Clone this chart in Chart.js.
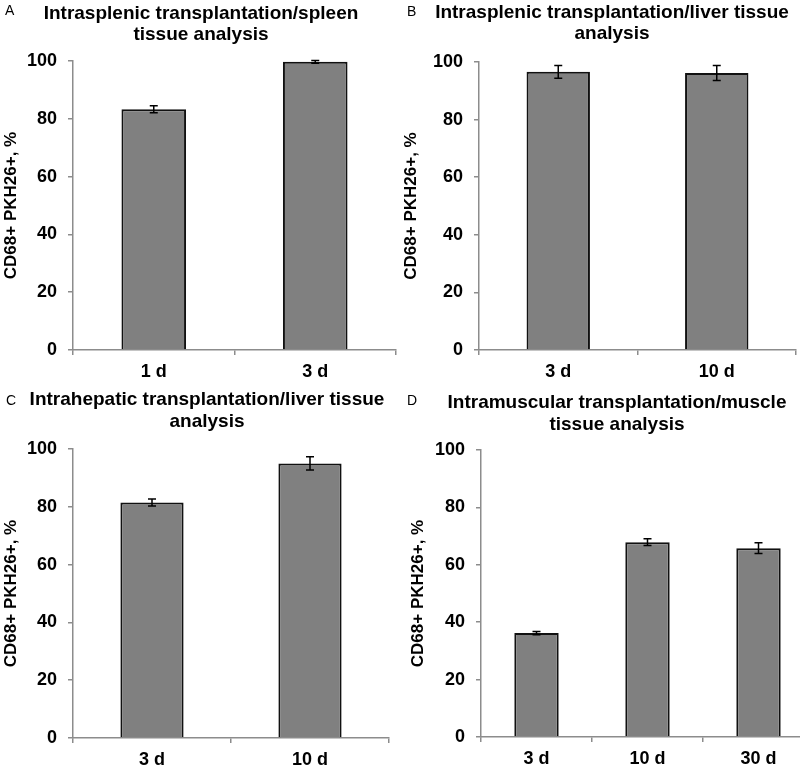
<!DOCTYPE html>
<html>
<head>
<meta charset="utf-8">
<script src="https://cdn.jsdelivr.net/npm/chart.js@4.4.0/dist/chart.umd.min.js"></script>
<style>
html, body { margin: 0; padding: 0; background: #fff; overflow: hidden; width: 800px; height: 769px; }
canvas { position: absolute; }
</style>
</head>
<body>
<canvas id="chartA" width="400" height="384" style="left:0;top:0"></canvas>
<canvas id="chartB" width="400" height="384" style="left:400px;top:0"></canvas>
<canvas id="chartC" width="400" height="385" style="left:0;top:384px"></canvas>
<canvas id="chartD" width="420" height="385" style="left:400px;top:384px"></canvas>
<script>
// data
var yTicks = [0, 20, 40, 60, 80, 100];
var yTitle = 'CD68+ PKH26+, %';

var labelsA = ['1 d', '3 d'];
var valuesA = [83.3, 99.7];
var errorsA = [1.2, 0.5];

var labelsB = ['3 d', '10 d'];
var valuesB = [96.6, 96.2];
var errorsB = [2.2, 2.6];

var labelsC = ['3 d', '10 d'];
var valuesC = [81.5, 95.0];
var errorsC = [1.2, 2.3];

var labelsD = ['3 d', '10 d', '30 d'];
var valuesD = [36.2, 67.9, 65.8];
var errorsD = [0.6, 1.2, 1.9];

var FONT = "'Liberation Sans', Arial, sans-serif";
var AXIS = '#8c8c8c';

// error bars drawn with the y scale of each chart
var errorBarPlugin = {
  id: 'errorBars',
  afterDatasetsDraw: function(chart, args, opts) {
    var ctx = chart.ctx, y = chart.scales.y;
    var meta = chart.getDatasetMeta(0);
    var vals = chart.data.datasets[0].data;
    ctx.save();
    ctx.strokeStyle = '#000';
    ctx.lineWidth = 1.5;
    meta.data.forEach(function(bar, i) {
      var hi = y.getPixelForValue(vals[i] + opts.errors[i]);
      var lo = y.getPixelForValue(vals[i] - opts.errors[i]);
      ctx.beginPath();
      ctx.moveTo(bar.x, hi); ctx.lineTo(bar.x, lo);
      ctx.moveTo(bar.x - 4, hi); ctx.lineTo(bar.x + 4, hi);
      ctx.moveTo(bar.x - 4, lo); ctx.lineTo(bar.x + 4, lo);
      ctx.stroke();
    });
    ctx.restore();
  }
};

// panel letter + two line heading
var panelTextPlugin = {
  id: 'panelText',
  afterDraw: function(chart, args, opts) {
    var ctx = chart.ctx;
    ctx.save();
    ctx.fillStyle = '#000';
    ctx.textBaseline = 'alphabetic';
    ctx.font = '14px ' + FONT;
    ctx.textAlign = 'left';
    ctx.fillText(opts.letter, opts.lx, opts.ly);
    ctx.font = 'bold 19px ' + FONT;
    ctx.textAlign = 'center';
    opts.lines.forEach(function(t, i) {
      ctx.fillText(t, opts.cx, opts.baselines[i]);
    });
    ctx.restore();
  }
};

function makeChart(id, labels, values, errors, p) {
  var ctx = document.getElementById(id).getContext('2d');
  return new Chart(ctx, {
    type: 'bar',
    data: {
      labels: labels,
      datasets: [{
        data: values,
        backgroundColor: '#808080',
        borderColor: '#111',
        borderWidth: 2,
        barPercentage: 0.4,
        categoryPercentage: 1
      }]
    },
    plugins: [errorBarPlugin, panelTextPlugin],
    options: {
      responsive: false,
      animation: false,
      layout: { padding: { top: p.top, right: p.right, left: 0, bottom: 0 } },
      plugins: {
        legend: { display: false },
        tooltip: { enabled: false },
        errorBars: { errors: errors },
        panelText: p.text
      },
      scales: {
        x: {
          ticks: { color: '#000', font: { family: FONT, size: 18, weight: 'bold' }, padding: 6 },
          border: { color: AXIS, width: 1.5 },
          grid: { drawOnChartArea: false, tickLength: 5, color: AXIS, lineWidth: 1.5 },
          afterFit: function(s) { s.height = p.height - p.bottom; }
        },
        y: {
          min: 0,
          max: 100,
          afterBuildTicks: function(s) { s.ticks = yTicks.map(function(v) { return { value: v }; }); },
          ticks: { color: '#000', font: { family: FONT, size: 18, weight: 'bold' }, padding: 11 },
          border: { color: AXIS, width: 1.5 },
          grid: { drawOnChartArea: false, tickLength: 5, color: AXIS, lineWidth: 1.5 },
          title: {
            display: true,
            text: yTitle,
            color: '#000',
            font: { family: FONT, size: 17, weight: 'bold' },
            padding: { top: p.titlePad, bottom: 0 }
          },
          afterFit: function(s) { s.width = p.axisX; }
        }
      }
    }
  });
}

makeChart('chartA', labelsA, valuesA, errorsA, {
  height: 384, top: 61, bottom: 350, right: 4, axisX: 73, titlePad: 1,
  text: { letter: 'A', lx: 5, ly: 15, cx: 201, baselines: [19, 40],
    lines: ['Intrasplenic transplantation/spleen', 'tissue analysis'] }
});
makeChart('chartB', labelsB, valuesB, errorsB, {
  height: 384, top: 62, bottom: 350, right: 4, axisX: 79, titlePad: 1,
  text: { letter: 'B', lx: 7, ly: 16, cx: 212, baselines: [18, 39],
    lines: ['Intrasplenic transplantation/liver tissue', 'analysis'] }
});
makeChart('chartC', labelsC, valuesC, errorsC, {
  height: 385, top: 65, bottom: 354, right: 11, axisX: 73, titlePad: 1,
  text: { letter: 'C', lx: 6, ly: 21, cx: 207, baselines: [21, 43],
    lines: ['Intrahepatic transplantation/liver tissue', 'analysis'] }
});
makeChart('chartD', labelsD, valuesD, errorsD, {
  height: 385, top: 66, bottom: 353, right: 6, axisX: 81, titlePad: 8,
  text: { letter: 'D', lx: 7, ly: 21, cx: 217, baselines: [24, 46],
    lines: ['Intramuscular transplantation/muscle', 'tissue analysis'] }
});
</script>
</body>
</html>
